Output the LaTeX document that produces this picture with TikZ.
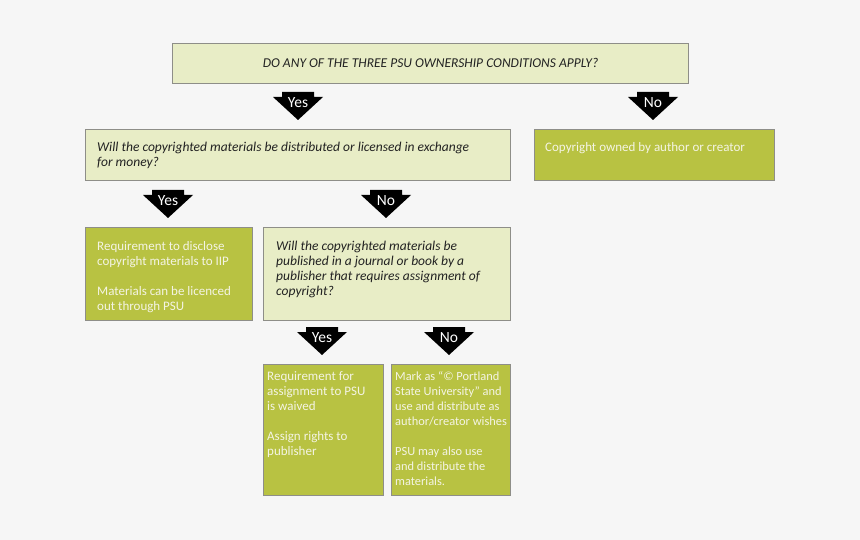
\documentclass[tikz,border=0pt]{standalone}
\usepackage{fontspec}
\setmainfont{Carlito}
\definecolor{bg}{HTML}{F6F6F6}
\definecolor{lightg}{HTML}{E8EDC6}
\definecolor{darkg}{HTML}{B8C242}
\definecolor{bord}{HTML}{8E8E88}
\definecolor{txtd}{HTML}{222222}
\definecolor{txtw}{HTML}{F4F4E4}
\begin{document}
\begin{tikzpicture}[x=1pt,y=-1pt,
  box/.style={draw=bord,line width=1.1pt,inner sep=0pt,anchor=north west},
  qbox/.style={box,fill=lightg},
  rbox/.style={box,fill=darkg},
  qtxt/.style={anchor=north west,inner sep=0pt,align=left,text=txtd,font=\fontsize{13.5}{15}\selectfont\itshape},
  rtxt/.style={anchor=north west,inner sep=0pt,align=left,text=txtw,font=\fontsize{13}{15}\selectfont},
  pics/barrow/.style={code={
    \fill[black] (-16,0) -- (16,0) -- (16,5) -- (25,5) -- (0,28) -- (-25,5) -- (-16,5) -- cycle;
    \node[text=white,inner sep=0pt,font=\fontsize{15.5}{16}\selectfont] at (0,11) {#1};
  }}]
\fill[bg] (0,0) rectangle (860,540);
\useasboundingbox (0,0) rectangle (860,540);

% boxes
\node[qbox,minimum width=516pt,minimum height=40pt] (top) at (172,43) {};
\node[qtxt,anchor=center] (toptxt) at ([yshift=0.5pt]top.center) {DO ANY OF THE THREE PSU OWNERSHIP CONDITIONS APPLY?};

\node[qbox,minimum width=425pt,minimum height=51pt] (q1) at (85,129) {};
\node[qtxt] (q1txt) at (97,142) {Will the copyrighted materials be distributed or licensed in exchange\\for money?};

\node[rbox,minimum width=240pt,minimum height=51pt] (own) at (534,129) {};
\node[rtxt] (owntxt) at (545,142) {Copyright owned by author or creator};

\node[rbox,minimum width=167pt,minimum height=93pt] (disc) at (85,227) {};
\node[rtxt] (disctxt) at (97,241) {Requirement to disclose\\copyright materials to IIP\\[15pt]Materials can be licenced\\out through PSU};

\node[qbox,minimum width=247pt,minimum height=93pt] (q2) at (263,227) {};
\node[qtxt] (q2txt) at (276,241) {Will the copyrighted materials be\\published in a journal or book by a\\publisher that requires assignment of\\copyright?};

\node[rbox,minimum width=120pt,minimum height=131pt] (waive) at (263,364) {};
\node[rtxt] (waivetxt) at (267,371) {Requirement for\\assignment to PSU\\is waived\\[15pt]Assign rights to\\publisher};

\node[rbox,minimum width=119pt,minimum height=131pt] (mark) at (391,364) {};
\node[rtxt,font=\fontsize{12.4}{15}\selectfont] (marktxt) at (395,371) {Mark as “© Portland\\State University” and\\use and distribute as\\author/creator wishes\\[15pt]PSU may also use\\and distribute the\\materials.};

% block arrows
\pic at (298,92) {barrow={Yes}};
\pic at (653,92) {barrow={No}};
\pic at (168,190) {barrow={Yes}};
\pic at (386,190) {barrow={No}};
\pic at (322,327) {barrow={Yes}};
\pic at (449,327) {barrow={No}};
\end{tikzpicture}
\end{document}
